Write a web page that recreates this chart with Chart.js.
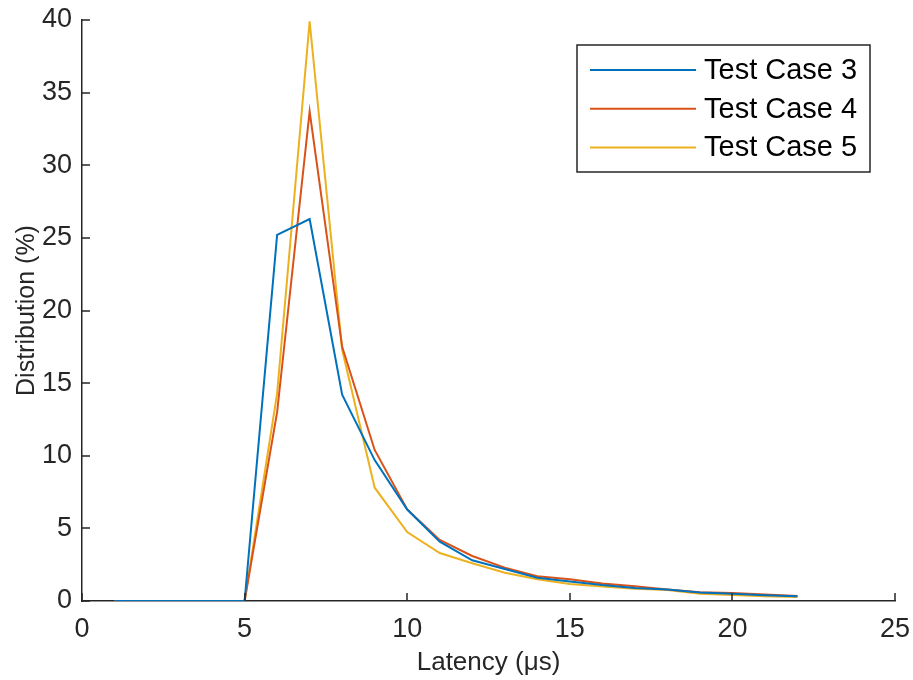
<!DOCTYPE html>
<html>
<head>
<meta charset="utf-8">
<title>Latency distribution</title>
<script src="https://cdn.jsdelivr.net/npm/chart.js@4"></script>
<style>
  html, body { margin: 0; padding: 0; background: #fff; }
  #wrap { width: 913px; height: 680px; }
</style>
</head>
<body>
<div id="wrap"><canvas id="latChart" width="913" height="680"></canvas></div>
<script>
const latency = [1, 2, 3, 4, 5, 6, 7, 8, 9, 10, 11, 12, 13, 14, 15, 16, 17, 18, 19, 20, 21, 22];
const case3 = [0, 0, 0, 0, 0, 25.2, 26.3, 14.2, 9.7, 6.3, 4.08, 2.8, 2.2, 1.6, 1.35, 1.1, 0.9, 0.8, 0.58, 0.5, 0.4, 0.32];
const case4 = [0, 0, 0, 0, 0, 13.0, 33.7, 17.5, 10.4, 6.3, 4.2, 3.1, 2.3, 1.7, 1.5, 1.2, 1.02, 0.8, 0.6, 0.55, 0.45, 0.35];
const case5 = [0, 0, 0, 0, 0, 14.3, 39.9, 17.3, 7.8, 4.75, 3.3, 2.6, 1.95, 1.5, 1.17, 1.0, 0.85, 0.75, 0.5, 0.42, 0.32, 0.28];
const seriesNames = ['Test Case 3', 'Test Case 4', 'Test Case 5'];
const seriesColors = ['#0072BD', '#D95319', '#EDB120'];
const xTicks = [0, 5, 10, 15, 20, 25];
const yTicks = [0, 5, 10, 15, 20, 25, 30, 35, 40];

const axisColor = '#262626';
const fontFamily = '"Liberation Sans", Arial, Helvetica, sans-serif';

function toPoints(vals) {
    return vals.map((v, i) => ({ x: latency[i], y: v }));
}

// inward tick marks, like the default MATLAB axes
const innerTicks = {
    id: 'innerTicks',
    afterDatasetsDraw(chart) {
        const { ctx, chartArea, scales } = chart;
        const len = 8;
        ctx.save();
        ctx.strokeStyle = axisColor;
        ctx.lineWidth = 1.5;
        ctx.beginPath();
        xTicks.forEach(t => {
            const px = Math.round(scales.x.getPixelForValue(t));
            ctx.moveTo(px, chartArea.bottom);
            ctx.lineTo(px, chartArea.bottom - len);
        });
        yTicks.forEach(t => {
            const py = Math.round(scales.y.getPixelForValue(t));
            ctx.moveTo(chartArea.left, py);
            ctx.lineTo(chartArea.left + len, py);
        });
        ctx.stroke();
        ctx.restore();
    }
};

// boxed legend in the upper right of the plot
const boxLegend = {
    id: 'boxLegend',
    afterDraw(chart) {
        const { ctx } = chart;
        const x0 = 577, y0 = 45, w = 293, h = 127;
        ctx.save();
        ctx.fillStyle = '#fff';
        ctx.fillRect(x0, y0, w, h);
        ctx.strokeStyle = axisColor;
        ctx.lineWidth = 1.5;
        ctx.strokeRect(x0, y0, w, h);
        ctx.font = '29px ' + fontFamily;
        ctx.textBaseline = 'middle';
        chart.data.datasets.forEach((ds, i) => {
            const cy = 70 + i * 38.7;
            ctx.strokeStyle = ds.borderColor;
            ctx.lineWidth = 2;
            ctx.beginPath();
            ctx.moveTo(590, cy);
            ctx.lineTo(696, cy);
            ctx.stroke();
            ctx.fillStyle = '#000';
            ctx.fillText(ds.label, 704, cy + 1);
        });
        ctx.restore();
    }
};

const ctx = document.getElementById('latChart');

const myChart = new Chart(ctx, {
    type: 'line',
    data: {
        datasets: [case3, case4, case5].map((vals, i) => ({
            label: seriesNames[i],
            data: toPoints(vals),
            borderColor: seriesColors[i],
            backgroundColor: seriesColors[i],
            borderWidth: 2,
            pointRadius: 0,
            tension: 0,
            fill: false
        }))
    },
    options: {
        responsive: false,
        animation: false,
        layout: { padding: { top: 20, right: 18, left: 0, bottom: 0 } },
        plugins: {
            legend: { display: false },
            tooltip: { enabled: false }
        },
        scales: {
            x: {
                type: 'linear',
                min: 0,
                max: 25,
                afterBuildTicks: (scale) => { scale.ticks = xTicks.map(v => ({ value: v })); },
                afterFit: (scale) => {
                    scale.height = 79;
                    scale.paddingLeft = 0;
                    scale.paddingRight = 0;
                },
                grid: { display: true, color: 'rgba(0,0,0,0)', drawTicks: false },
                border: { display: true, color: axisColor, width: 1.5 },
                ticks: {
                    color: axisColor,
                    padding: 12,
                    maxRotation: 0,
                    font: { family: fontFamily, size: 27 }
                },
                title: {
                    display: true,
                    text: 'Latency (μs)',
                    color: axisColor,
                    padding: { top: 0, bottom: 2 },
                    font: { family: fontFamily, size: 26 }
                }
            },
            y: {
                min: 0,
                max: 40,
                afterBuildTicks: (scale) => { scale.ticks = yTicks.map(v => ({ value: v })); },
                afterFit: (scale) => {
                    scale.width = 82;
                    scale.paddingTop = 0;
                    scale.paddingBottom = 0;
                },
                grid: { display: true, color: 'rgba(0,0,0,0)', drawTicks: false },
                border: { display: true, color: axisColor, width: 1.5 },
                ticks: {
                    color: axisColor,
                    padding: 10,
                    font: { family: fontFamily, size: 27 }
                },
                title: {
                    display: true,
                    text: 'Distribution (%)',
                    color: axisColor,
                    padding: { top: 12, bottom: 0 },
                    font: { family: fontFamily, size: 25 }
                }
            }
        }
    },
    plugins: [innerTicks, boxLegend]
});
</script>
</body>
</html>
